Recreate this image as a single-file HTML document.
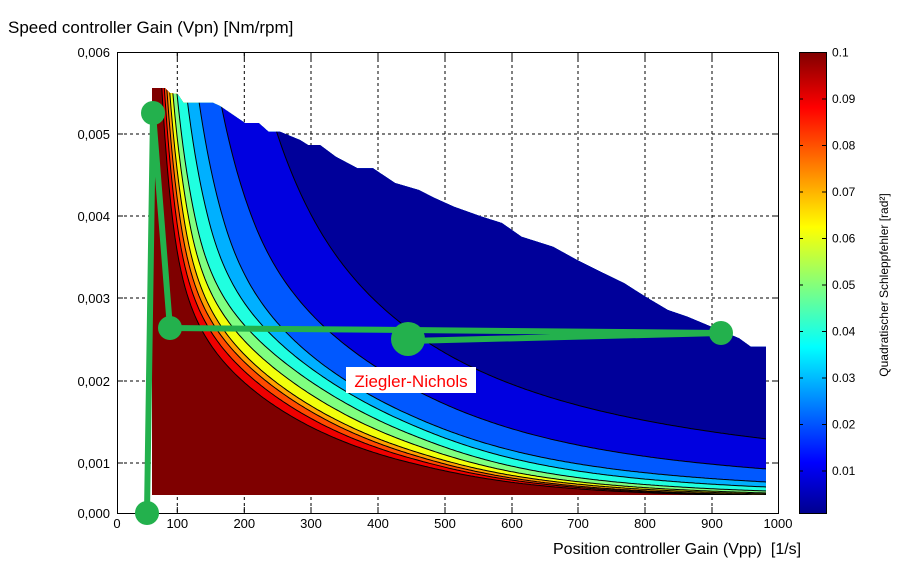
<!DOCTYPE html>
<html><head><meta charset="utf-8">
<style>
html,body{margin:0;padding:0;background:#fff;width:908px;height:568px;overflow:hidden}
svg text{font-family:"Liberation Sans",Arial,sans-serif}
</style></head><body>
<svg id="s" width="908" height="568" viewBox="0 0 908 568" xmlns="http://www.w3.org/2000/svg">
<defs>
<clipPath id="dc"><polygon id="clipPoly" points=""/></clipPath>
<linearGradient id="jet" x1="0" y1="1" x2="0" y2="0">
<stop offset="0" stop-color="#00008f"/>
<stop offset="0.11" stop-color="#0000ff"/>
<stop offset="0.36" stop-color="#00ffff"/>
<stop offset="0.62" stop-color="#ffff00"/>
<stop offset="0.88" stop-color="#ff0000"/>
<stop offset="1" stop-color="#800000"/>
</linearGradient>
</defs>
<rect x="117" y="52" width="661" height="461" fill="#fff"/>
<g id="grid" stroke="#000" stroke-width="1" stroke-dasharray="3,3"></g>
<g id="bands" clip-path="url(#dc)"></g>
<g id="lines" clip-path="url(#dc)" fill="none" stroke="#000" stroke-width="1"></g>
<rect x="117.5" y="52.5" width="661" height="461" fill="none" stroke="#000"/>
<g id="ticks" stroke="#000"></g>
<g id="labels" font-size="13" fill="#000"></g>
<polyline points="147,513 153,113 170,328 408,330 721,333 408,341" fill="none" stroke="#23b14d" stroke-width="6" stroke-linejoin="round"/>
<g fill="#23b14d">
<circle cx="147" cy="513" r="12"/>
<circle cx="153" cy="113" r="12"/>
<circle cx="170" cy="328" r="12"/>
<circle cx="408" cy="339" r="17"/>
<circle cx="721" cy="333" r="12"/>
</g>
<rect x="346" y="367" width="130" height="26" fill="#fff"/>
<text x="411" y="387" font-size="17" fill="#ff0000" text-anchor="middle">Ziegler-Nichols</text>
<text x="8" y="33" font-size="17" fill="#000">Speed controller Gain (Vpn) [Nm/rpm]</text>
<text x="553" y="554" font-size="16" fill="#000" xml:space="preserve">Position controller Gain (Vpp)  [1/s]</text>
<rect x="799" y="52" width="27" height="461" fill="url(#jet)"/>
<rect x="799.5" y="52.5" width="27" height="461" fill="none" stroke="#000"/>
<g id="cb" font-size="12"></g>
<text transform="translate(888,285) rotate(-90)" font-size="12" text-anchor="middle">Quadratischer Schleppfehler [rad²]</text>
</svg>
<script>
(function(){
var NS="http://www.w3.org/2000/svg";
function el(t,a,p,txt){var e=document.createElementNS(NS,t);for(var k in a)e.setAttribute(k,a[k]);if(txt!=null)e.textContent=txt;p.appendChild(e);return e;}
var grid=document.getElementById('grid'),ticks=document.getElementById('ticks'),labels=document.getElementById('labels');
var xs=[177.3,244.3,311,378,445,512,578,645,712];
xs.forEach(function(x){el('line',{x1:x,y1:53,x2:x,y2:513},grid);el('line',{x1:x,y1:513,x2:x,y2:507},ticks);el('line',{x1:x,y1:53,x2:x,y2:59},ticks);});
var ys=[134,216,298,381,463];
ys.forEach(function(y){el('line',{x1:118,y1:y,x2:778,y2:y},grid);el('line',{x1:117,y1:y,x2:123,y2:y},ticks);el('line',{x1:778,y1:y,x2:772,y2:y},ticks);});
var xl=['100','200','300','400','500','600','700','800','900'];
el('text',{x:117,y:528,'text-anchor':'middle'},labels,'0');
xs.forEach(function(x,i){el('text',{x:x,y:528,'text-anchor':'middle'},labels,xl[i]);});
el('text',{x:778,y:528,'text-anchor':'middle'},labels,'1000');
var yl=[[56,'0,006'],[138,'0,005'],[220,'0,004'],[302,'0,003'],[385,'0,002'],[467,'0,001'],[517,'0,000']];
yl.forEach(function(a){el('text',{x:110,y:a[0]+1,'text-anchor':'end'},labels,a[1]);});
var cb=document.getElementById('cb');
for(var i=1;i<=10;i++){var y=471-(i-1)*46.5;el('line',{x1:799,y1:y,x2:803,y2:y,stroke:'#000'},cb);el('line',{x1:826,y1:y,x2:822,y2:y,stroke:'#000'},cb);
el('text',{x:832,y:y+4},cb,i==10?'0.1':'0.0'+i);}
var top=[[152,88],[165,88],[170,93],[177.7,94],[183.6,102.7],[213,102.7],[220,106],[245,123],[258.7,123],[268.6,131.7],[280,131.7],[300,140],[308,145],[320,145],[335.8,156.7],[357.5,168.3],[373,168.3],[395,183],[418.8,190],[434.6,198],[454,206.7],[482,216.7],[501.8,223],[521.5,236.7],[553,246.7],[577,260],[600.6,271.7],[624.3,283.3],[648,298.3],[667.8,310],[687.5,316.7],[703,323.3],[739,338.3],[750.8,346.7],[766,346.7],[766,495],[152,495]];
document.getElementById('clipPoly').setAttribute('points',top.map(function(p){return p.join(',')}).join(' '));
var X0=140,Y0=500;
var B=[
[[33.3,275],[270,37.3],[627,4]],
[[37.3,275],[270,42],[627,4.5]],
[[41,275],[270,46],[627,5]],
[[45,275],[270,50],[627,6]],
[[50,275],[270,57],[627,7]],
[[56.7,275],[270,66],[627,9]],
[[70,275],[270,76],[627,13]],
[[85,275],[270,85],[627,18]],
[[115,275],[270,113],[627,31]],
[[176.7,275],[270,170],[627,61]]];
var cols=['#ee0000','#ff4a00','#ffa000','#f2ff0c','#80ff80','#20ffe0','#00b0ff','#0058ff','#0000e0','#00009a'];
function herm(xa,xb,ya,yb,ma,mb,x){var h=xb-xa,t=(x-xa)/h,t2=t*t,t3=t2*t;
 return (2*t3-3*t2+1)*ya+(t3-2*t2+t)*h*ma+(-2*t3+3*t2)*yb+(t3-t2)*h*mb;}
function wOf(b,u){
 var p=b.map(function(q){return [Math.log(q[0]),Math.log(q[1])]});
 var x0=p[0][0],x1=p[1][0],x2=p[2][0],y0=p[0][1],y1=p[1][1],y2=p[2][1];
 var s01=(y1-y0)/(x1-x0),s12=(y2-y1)/(x2-x1),m1=(s01+s12)/2;
 var lu=Math.log(u);
 if(lu<x0) return Math.exp(y0+s01*(lu-x0));
 if(lu>x2) return Math.exp(y2+s12*(lu-x2));
 if(lu<=x1) return Math.exp(herm(x0,x1,y0,y1,s01,m1,lu));
 return Math.exp(herm(x1,x2,y1,y2,m1,s12,lu));
}
var bands=document.getElementById('bands'),lines=document.getElementById('lines');
el('rect',{x:150,y:80,width:620,height:420,fill:'#7f0000'},bands);
B.forEach(function(b,i){
 var pts=[];
 for(var X=145;X<=770;X+=2){var u=X-X0;var w=wOf(b,u);var Y=Y0-w;if(Y<70)Y=70;pts.push([X,Y]);}
 var d='M'+pts.map(function(p){return p[0].toFixed(1)+','+p[1].toFixed(1)}).join(' L');
 el('path',{d:d+' L770,60 L145,60 Z',fill:cols[i]},bands);
 el('path',{d:d},lines);
});
})();
</script>
</body></html>
